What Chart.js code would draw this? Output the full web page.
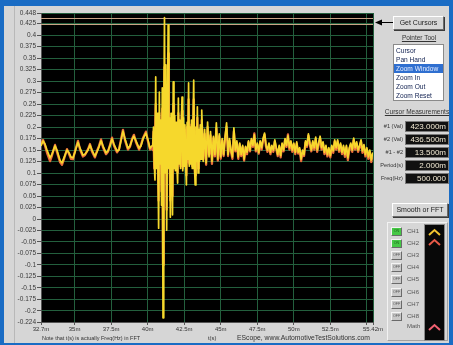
<!DOCTYPE html>
<html>
<head>
<meta charset="utf-8">
<script src="https://cdn.jsdelivr.net/npm/chart.js@4.4.1/dist/chart.umd.min.js"></script>
<style>
    body { margin: 0; width: 453px; height: 345px; overflow: hidden; background: #1a6cc4; font-family: "Liberation Sans", Arial, sans-serif; }
    #win { position: absolute; left: 4px; top: 6px; width: 445px; height: 337px; background: #d6d6d6; }
    #edge { position: absolute; left: 14px; top: 6px; width: 1px; height: 337px; background: #b8b8b8; }
    #chart { position: absolute; left: 0; top: 0; }
    .ui { position: absolute; white-space: nowrap; color: #222; }
    .btn { background: #d8d8d8; border: 1px solid; border-color: #ffffff #6a6a6a #6a6a6a #ffffff; box-shadow: 1px 1px 0 #3a3a3a; font-size: 7px; text-align: center; box-sizing: border-box; }
    .lbl { font-size: 6.5px; text-decoration: underline; text-align: center; color: #333; }
    #list { left: 393px; top: 44px; width: 51px; height: 57px; background: #fff; border: 1px solid #8a8a8a; box-sizing: border-box; padding-top: 1px; }
    #list div { font-size: 6.6px; line-height: 9px; height: 9px; padding-left: 2px; color: #102050; }
    #list div.sel { background: #2f6fd0; color: #e6eeff; }
    .mname { font-size: 5.6px; text-align: right; width: 34px; left: 369px; color: #333; }
    .mval { left: 405px; width: 44px; height: 11px; background: #111; border: 1px solid #7a7a7a; box-sizing: border-box; font-size: 8px; line-height: 9px; text-align: right; padding-right: 2px; color: #f2ead4; }
    .chb { left: 391px; width: 11px; height: 9px; box-sizing: border-box; border: 1px solid; border-color: #f4f4f4 #6a6a6a #6a6a6a #f4f4f4; font-size: 3.6px; line-height: 7px; text-align: center; background: #c9c9c9; color: #555; }
    .chb.on { background: #46c846; color: #1c601c; }
    .chn { left: 407px; font-size: 6px; color: #555; }
</style>
</head>
<body>
<div id="win"></div>
<div id="edge"></div>
<canvas id="chart" width="453" height="345"></canvas>

<div class="ui btn" style="left:393px;top:16px;width:51px;height:14px;line-height:12px;">Get Cursors</div>
<svg class="ui" style="left:374px;top:18px;" width="20" height="9">
    <line x1="5" y1="4.5" x2="19" y2="4.5" stroke="#000" stroke-width="1"/>
    <polygon points="1,4.5 8,1.5 8,7.5" fill="#000"/>
</svg>
<div class="ui lbl" style="left:393px;top:34px;width:52px;">Pointer Tool</div>
<div class="ui" id="list">
    <div>Cursor</div>
    <div>Pan Hand</div>
    <div class="sel">Zoom Window</div>
    <div>Zoom In</div>
    <div>Zoom Out</div>
    <div>Zoom Reset</div>
</div>
<div class="ui lbl" style="left:382px;top:108px;width:70px;">Cursor Measurements</div>
<div id="measurements"></div>
<div class="ui btn" style="left:392px;top:203px;width:56px;height:14px;line-height:12px;">Smooth or FFT</div>
<div class="ui" style="left:387px;top:222px;width:61px;height:119px;border:1px solid;border-color:#f2f2f2 #a0a0a0 #a0a0a0 #f2f2f2;box-sizing:border-box;"></div>
<div id="channels"></div>
<svg class="ui" style="left:424px;top:224px;" width="21" height="117">
    <rect x="0.5" y="0.5" width="20" height="116" fill="#080808" stroke="#8a8a8a"/>
    <polyline points="5,11 10.5,6 16,11" fill="none" stroke="#f2c430" stroke-width="2"/>
    <polyline points="5,21 10.5,16 16,21" fill="none" stroke="#e85a48" stroke-width="2"/>
    <polyline points="5,106 10.5,101 16,106" fill="none" stroke="#f06070" stroke-width="2"/>
</svg>

<div class="ui" style="left:42px;top:335px;font-size:5.5px;color:#333;">Note that t(s) is actually Freq(Hz) in FFT</div>
<div class="ui" style="left:208px;top:335px;font-size:5.8px;color:#333;">t(s)</div>
<div class="ui" style="left:237px;top:334px;font-size:6.8px;color:#333;">EScope, www.AutomotiveTestSolutions.com</div>

<script>
// time axis in ms, values in V
const preTimes = [32.70, 32.84, 32.97, 33.11, 33.32, 33.45, 33.66, 33.79, 34.00, 34.14,
    34.27, 34.48, 34.62, 34.75, 34.89, 35.03, 35.23, 35.37, 35.57, 35.71,
    35.92, 36.05, 36.19, 36.39, 36.53, 36.67, 36.81, 36.94, 37.15, 37.28,
    37.42, 37.56, 37.69, 37.90, 38.04, 38.17, 38.31, 38.45, 38.65, 38.79,
    38.93, 39.06, 39.20, 39.41, 39.54, 39.68, 39.88, 40.02, 40.16, 40.29];
const burstTimes = [40.35, 40.4, 40.45, 40.5, 40.55, 40.6, 40.65, 40.7, 40.75, 40.8,
    40.85, 40.9, 40.95, 41, 41.05, 41.1, 41.15, 41.2, 41.25, 41.3,
    41.35, 41.4, 41.45, 41.5, 41.55, 41.6, 41.65, 41.7, 41.75, 41.8,
    41.85, 41.9, 41.95, 42, 42.05, 42.1, 42.15, 42.2, 42.25, 42.3,
    42.35, 42.4, 42.45, 42.5, 42.55, 42.6, 42.65, 42.7, 42.75, 42.8,
    42.85, 42.9, 42.95, 43, 43.05, 43.1, 43.15, 43.2, 43.25, 43.3,
    43.35, 43.4, 43.45, 43.5, 43.55, 43.6, 43.65, 43.7];
const postTimes = [43.8, 43.9, 44, 44.1, 44.2, 44.3, 44.4, 44.5, 44.6, 44.7,
    44.8, 44.9, 45, 45.1, 45.2, 45.3, 45.4, 45.5, 45.6, 45.7,
    45.8, 45.9, 46, 46.1, 46.2, 46.3, 46.4, 46.5, 46.6, 46.7,
    46.8, 46.9, 47, 47.1, 47.2, 47.3, 47.4, 47.5, 47.6, 47.7,
    47.8, 47.9, 48, 48.1, 48.2, 48.3, 48.4, 48.5, 48.6, 48.7,
    48.8, 48.9, 49, 49.1, 49.2, 49.3, 49.4, 49.5, 49.6, 49.7,
    49.8, 49.9, 50, 50.1, 50.2, 50.3, 50.4, 50.5, 50.6, 50.7,
    50.8, 50.9, 51, 51.1, 51.2, 51.3, 51.4, 51.5, 51.6, 51.7,
    51.8, 51.9, 52, 52.1, 52.2, 52.3, 52.4, 52.5, 52.6, 52.7,
    52.8, 52.9, 53, 53.1, 53.2, 53.3, 53.4, 53.5, 53.6, 53.7,
    53.8, 53.9, 54, 54.1, 54.2, 54.3, 54.4, 54.5, 54.6, 54.7,
    54.8, 54.9, 55, 55.1, 55.2, 55.3, 55.4];

// CH1 (yellow)
const ch1Pre = [0.159, 0.170, 0.163, 0.150, 0.133, 0.141, 0.159, 0.150, 0.128, 0.122,
    0.133, 0.150, 0.144, 0.135, 0.133, 0.146, 0.167, 0.154, 0.139, 0.141,
    0.150, 0.161, 0.150, 0.137, 0.146, 0.157, 0.170, 0.159, 0.144, 0.148,
    0.159, 0.174, 0.163, 0.148, 0.150, 0.170, 0.191, 0.174, 0.154, 0.159,
    0.172, 0.180, 0.170, 0.154, 0.159, 0.174, 0.187, 0.172, 0.154, 0.159];
const ch1Burst = [0.160, 0.200, 0.120, 0.085, 0.309, 0.110, 0.230, 0.130, -0.020, 0.276,
    0.120, 0.215, 0.030, 0.285, -0.215, 0.200, 0.438, 0.100, 0.335, -0.024,
    0.180, 0.422, 0.110, 0.220, 0.004, 0.230, 0.120, 0.009, 0.298, 0.110,
    0.225, 0.105, 0.210, 0.120, 0.078, 0.263, 0.120, 0.215, 0.110, 0.200,
    0.265, 0.105, 0.220, 0.115, 0.205, 0.125, 0.074, 0.210, 0.130, 0.296,
    0.115, 0.200, 0.120, 0.215, 0.110, 0.190, 0.302, 0.120, 0.074, 0.200,
    0.125, 0.244, 0.100, 0.195, 0.125, 0.205, 0.130, 0.237];
const ch1Post = [0.125, 0.195, 0.122, 0.211, 0.135, 0.190, 0.125, 0.180, 0.140, 0.209,
    0.130, 0.185, 0.135, 0.175, 0.140, 0.180, 0.209, 0.140, 0.175, 0.150,
    0.135, 0.198, 0.150, 0.170, 0.135, 0.165, 0.140, 0.160, 0.130, 0.158,
    0.145, 0.170, 0.150, 0.175, 0.160, 0.183, 0.150, 0.165, 0.145, 0.170,
    0.155, 0.175, 0.187, 0.160, 0.150, 0.165, 0.145, 0.160, 0.150, 0.172,
    0.155, 0.140, 0.160, 0.138, 0.165, 0.150, 0.175, 0.160, 0.181, 0.155,
    0.170, 0.150, 0.165, 0.145, 0.168, 0.145, 0.155, 0.130, 0.150, 0.140,
    0.170, 0.160, 0.185, 0.165, 0.150, 0.170, 0.155, 0.178, 0.150, 0.165,
    0.180, 0.155, 0.168, 0.145, 0.160, 0.140, 0.155, 0.138, 0.160, 0.148,
    0.172, 0.155, 0.172, 0.150, 0.165, 0.145, 0.160, 0.140, 0.160, 0.133,
    0.155, 0.165, 0.150, 0.176, 0.155, 0.168, 0.150, 0.160, 0.172, 0.148,
    0.162, 0.140, 0.155, 0.135, 0.150, 0.128, 0.145];

// CH2 (red)
const ch2Pre = [0.163, 0.172, 0.160, 0.144, 0.126, 0.138, 0.161, 0.146, 0.124, 0.118,
    0.130, 0.152, 0.141, 0.131, 0.130, 0.148, 0.170, 0.151, 0.136, 0.139,
    0.152, 0.163, 0.147, 0.134, 0.148, 0.159, 0.173, 0.156, 0.141, 0.146,
    0.161, 0.177, 0.160, 0.145, 0.152, 0.172, 0.194, 0.171, 0.151, 0.157,
    0.174, 0.183, 0.167, 0.151, 0.161, 0.176, 0.190, 0.169, 0.151, 0.156];
const ch2Burst = [0.150, 0.190, 0.110, 0.110, 0.250, 0.120, 0.215, 0.115, 0.040, 0.230,
    0.130, 0.200, 0.060, 0.240, -0.100, 0.190, 0.330, 0.110, 0.290, 0.020,
    0.170, 0.360, 0.120, 0.205, 0.040, 0.215, 0.110, 0.050, 0.250, 0.120,
    0.210, 0.110, 0.200, 0.115, 0.100, 0.230, 0.125, 0.205, 0.115, 0.190,
    0.235, 0.110, 0.205, 0.120, 0.195, 0.120, 0.095, 0.200, 0.125, 0.260,
    0.120, 0.190, 0.125, 0.205, 0.115, 0.185, 0.260, 0.125, 0.095, 0.190,
    0.130, 0.220, 0.110, 0.185, 0.130, 0.195, 0.135, 0.215];
const ch2Post = [0.130, 0.185, 0.118, 0.200, 0.140, 0.182, 0.120, 0.176, 0.136, 0.198,
    0.127, 0.180, 0.131, 0.171, 0.137, 0.176, 0.200, 0.137, 0.170, 0.146,
    0.131, 0.190, 0.147, 0.166, 0.131, 0.162, 0.137, 0.157, 0.127, 0.155,
    0.141, 0.167, 0.147, 0.171, 0.157, 0.186, 0.147, 0.161, 0.142, 0.167,
    0.151, 0.172, 0.183, 0.157, 0.146, 0.162, 0.141, 0.157, 0.146, 0.168,
    0.152, 0.137, 0.157, 0.134, 0.162, 0.147, 0.171, 0.157, 0.184, 0.151,
    0.167, 0.146, 0.162, 0.141, 0.164, 0.142, 0.151, 0.126, 0.146, 0.137,
    0.166, 0.157, 0.181, 0.161, 0.147, 0.166, 0.151, 0.174, 0.146, 0.161,
    0.176, 0.151, 0.164, 0.141, 0.156, 0.136, 0.151, 0.134, 0.156, 0.144,
    0.168, 0.151, 0.169, 0.146, 0.161, 0.141, 0.156, 0.135, 0.156, 0.128,
    0.151, 0.161, 0.146, 0.172, 0.151, 0.164, 0.146, 0.156, 0.168, 0.144,
    0.158, 0.136, 0.151, 0.131, 0.146, 0.124, 0.141];

const cursorValues = [0.423, 0.4365];

const xTicks = [32.7, 35, 37.5, 40, 42.5, 45, 47.5, 50, 52.5, 55, 55.42];
const xTickLabels = ["32.7m", "35m", "37.5m", "40m", "42.5m", "45m", "47.5m", "50m", "52.5m", "", "55.42m"];
const yTicks = [-0.224, -0.2, -0.175, -0.15, -0.125, -0.1, -0.075, -0.05, -0.025, 0,
    0.025, 0.05, 0.075, 0.1, 0.125, 0.15, 0.175, 0.2, 0.225, 0.25,
    0.275, 0.3, 0.325, 0.35, 0.375, 0.4, 0.425, 0.448];
const yTickLabels = ["-0.224", "-0.2", "-0.175", "-0.15", "-0.125", "-0.1", "-0.075", "-0.05", "-0.025", "0",
    "0.025", "0.05", "0.075", "0.1", "0.125", "0.15", "0.175", "0.2", "0.225", "0.25",
    "0.275", "0.3", "0.325", "0.35", "0.375", "0.4", "0.425", "0.448"];

const measureNames = ["#1 (Val)", "#2 (Val)", "#1 - #2", "Period(s)", "Freq(Hz)"];
const measureValues = ["423.000m", "436.500m", "13.500m", "2.000m", "500.000"];
const channelNames = ["CH1", "CH2", "CH3", "CH4", "CH5", "CH6", "CH7", "CH8"];
const channelOn = [true, true, false, false, false, false, false, false];

// side panel bits
let mHtml = "";
measureNames.forEach((name, i) => {
    const top = 121 + i * 13;
    mHtml += `<div class="ui mname" style="top:${top + 2}px;">${name}</div>`;
    mHtml += `<div class="ui mval" style="top:${top}px;">${measureValues[i]}</div>`;
});
document.getElementById("measurements").innerHTML = mHtml;

let cHtml = "";
channelNames.forEach((name, i) => {
    const top = 227 + i * 12.1;
    cHtml += `<div class="ui chb${channelOn[i] ? " on" : ""}" style="top:${top}px;">${channelOn[i] ? "ON" : "OFF"}</div>`;
    cHtml += `<div class="ui chn" style="top:${top + 1}px;">${name}</div>`;
});
cHtml += `<div class="ui chn" style="top:323px;">Math</div>`;
document.getElementById("channels").innerHTML = cHtml;

const timeMs = preTimes.concat(burstTimes, postTimes);
const ch1 = ch1Pre.concat(ch1Burst, ch1Post);
const ch2 = ch2Pre.concat(ch2Burst, ch2Post);
if (ch1.length !== timeMs.length || ch2.length !== timeMs.length) {
    console.error("length mismatch", timeMs.length, ch1.length, ch2.length);
}

const scopeBackground = {
    id: "scopeBackground",
    beforeDraw(chart) {
        const a = chart.chartArea;
        const ctx = chart.ctx;
        ctx.save();
        ctx.fillStyle = "#000";
        ctx.fillRect(a.left, a.top, a.right - a.left, a.bottom - a.top);
        ctx.restore();
    },
    beforeDatasetsDraw(chart) {
        const a = chart.chartArea;
        const ctx = chart.ctx;
        const y = chart.scales.y;
        ctx.save();
        ctx.strokeStyle = "#c9a486";
        ctx.lineWidth = 1;
        cursorValues.forEach(v => {
            const py = Math.round(y.getPixelForValue(v)) + 0.5;
            ctx.beginPath();
            ctx.moveTo(a.left, py);
            ctx.lineTo(a.right, py);
            ctx.stroke();
        });
        ctx.restore();
    }
};

const ctx = document.getElementById("chart").getContext("2d");
new Chart(ctx, {
    type: "line",
    data: {
        datasets: [{
            label: "CH1",
            data: timeMs.map((t, i) => ({ x: t, y: ch1[i] })),
            borderColor: "#f6d82c",
            borderWidth: 1.7,
            borderJoinStyle: "round",
            pointRadius: 0,
            tension: 0,
            order: 0
        }, {
            label: "CH2",
            data: timeMs.map((t, i) => ({ x: t, y: ch2[i] })),
            borderColor: "#ea6f3c",
            borderWidth: 2.3,
            borderJoinStyle: "round",
            pointRadius: 0,
            tension: 0,
            order: 1
        }]
    },
    options: {
        responsive: false,
        animation: false,
        devicePixelRatio: 1,
        layout: { padding: { left: 14, top: 13, right: 80, bottom: 0 } },
        plugins: { legend: { display: false }, tooltip: { enabled: false } },
        scales: {
            x: {
                type: "linear",
                min: 32.7,
                max: 55.42,
                afterBuildTicks: scale => { scale.ticks = xTicks.map(v => ({ value: v })); },
                afterFit: scale => { scale.height = 23; },
                ticks: {
                    autoSkip: false,
                    maxRotation: 0,
                    padding: 1,
                    color: "#333",
                    font: { family: "Liberation Sans", size: 6 },
                    callback: (v, i) => xTickLabels[i]
                },
                grid: { color: "#235f3d", tickColor: "#555", tickLength: 3 },
                border: { color: "#555" }
            },
            y: {
                type: "linear",
                min: -0.224,
                max: 0.448,
                afterBuildTicks: scale => { scale.ticks = yTicks.map(v => ({ value: v })); },
                afterFit: scale => { scale.width = 27; },
                ticks: {
                    autoSkip: false,
                    padding: 1,
                    color: "#3a3a3a",
                    font: { family: "Liberation Sans", size: 6.5 },
                    callback: (v, i) => yTickLabels[i]
                },
                grid: { color: "#235f3d", tickColor: "#555", tickLength: 4 },
                border: { color: "#555" }
            }
        }
    },
    plugins: [scopeBackground]
});
</script>
</body>
</html>
